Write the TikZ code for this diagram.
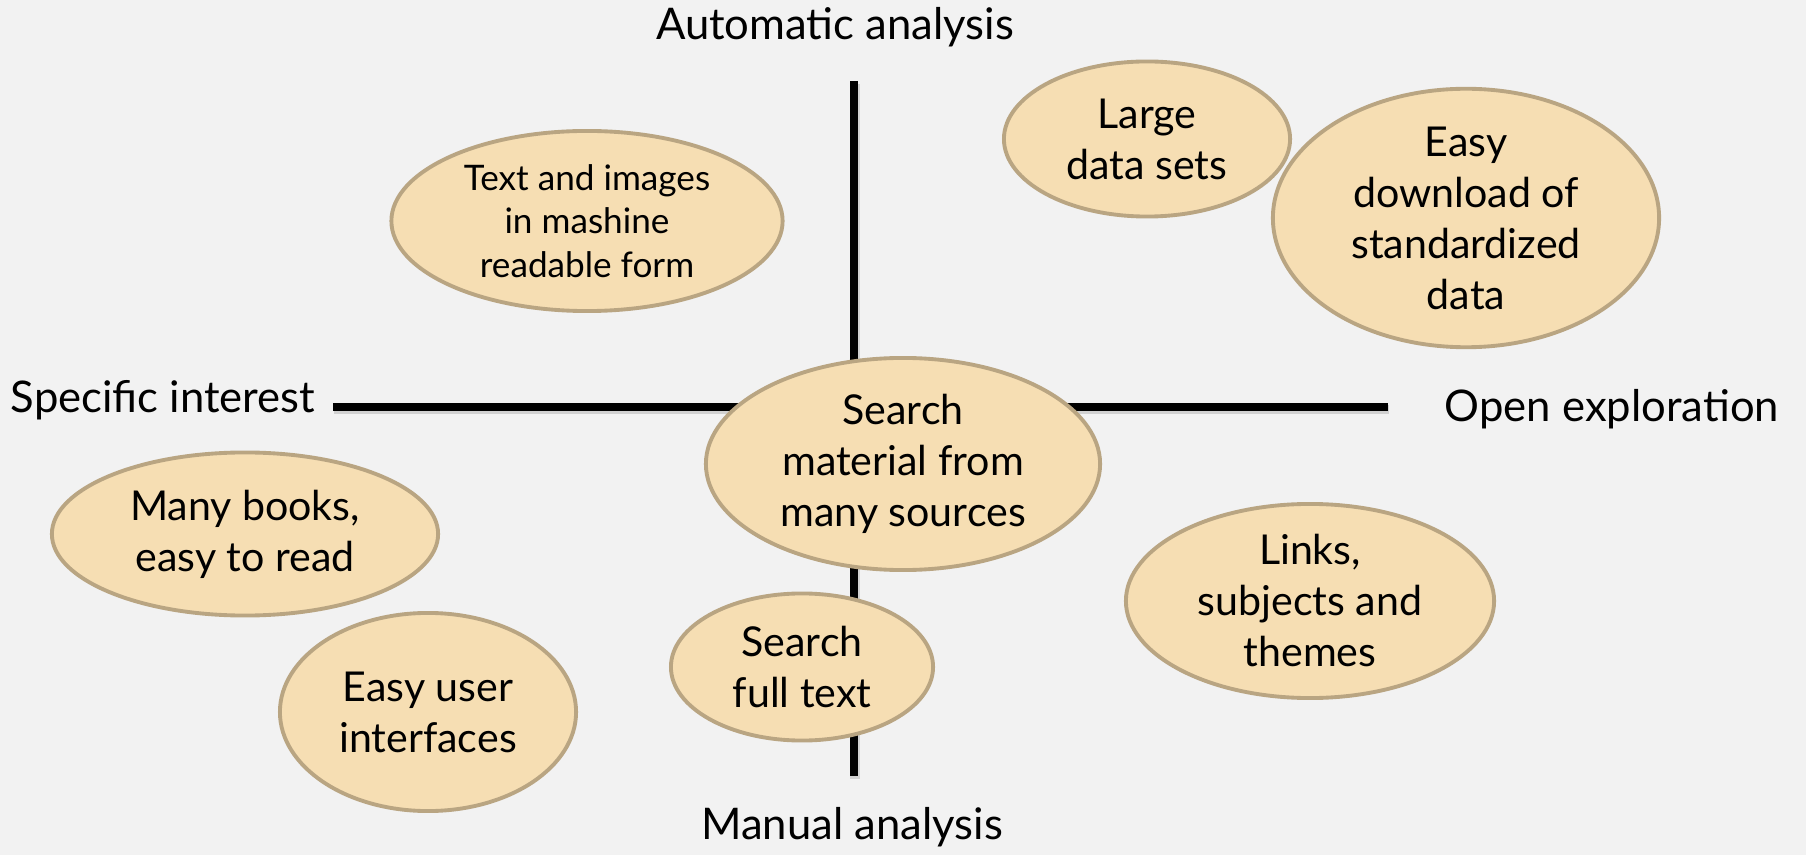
\documentclass[tikz,border=0pt]{standalone}
\usepackage{fontspec}
\setmainfont{Lato}
\usepackage{tikz}
\usetikzlibrary{shapes.geometric, positioning, backgrounds}
\definecolor{bgColor}{RGB}{242, 242, 242}
\definecolor{ideaFill}{RGB}{246, 222, 179}
\definecolor{ideaLine}{RGB}{185, 165, 130}
\definecolor{axisColor}{RGB}{0, 0, 0}
\tikzset{
    idea_node/.style={
        ellipse,
        draw=ideaLine,
        fill=ideaFill,
        line width=1.1pt,
        inner sep=0pt,
        align=center,
        font=\fontsize{11.7}{14.5}\selectfont
    },
    small_idea/.style={
        idea_node,
        font=\fontsize{10}{12.3}\selectfont
    },
    axis_line/.style={
        draw=axisColor,
        line width=2.3pt
    },
    axis_shadow/.style={
        draw=black!30,
        line width=2.6pt,
        opacity=0.5
    },
    axis_label/.style={
        font=\fontsize{12.4}{14}\selectfont,
        inner sep=0pt
    }
}

\begin{document}
\begin{tikzpicture}[x=0.01cm, y=-0.01cm]
    \fill[bgColor] (0,0) rectangle (1806,855);
    \useasboundingbox (0,0) rectangle (1806,855);

    % axes
    \coordinate (top_end) at (854,81);
    \coordinate (bottom_end) at (854,776);
    \coordinate (left_end) at (333,407);
    \coordinate (right_end) at (1388,407);
    \draw[axis_shadow, transform canvas={xshift=0.3pt, yshift=-0.8pt}] (left_end) -- (right_end);
    \draw[axis_shadow, transform canvas={xshift=0.3pt, yshift=-0.8pt}] (top_end) -- (bottom_end);
    \draw[axis_line] (left_end) -- (right_end);
    \draw[axis_line] (top_end) -- (bottom_end);

    \node[axis_label] (auto) at (835,27) {Automatic analysis};
    \node[axis_label] (manual) at (852,827) {Manual analysis};
    \node[axis_label] (specific) at (163,400) {Specific interest};
    \node[axis_label] (open) at (1612,409) {Open exploration};

    % ideas
    \node[small_idea, minimum width=3.91cm, minimum height=1.80cm] (machine) at (587,221)
        {Text and images\\in mashine\\readable form};
    \node[idea_node, minimum width=2.86cm, minimum height=1.55cm] (large) at (1147,139)
        {Large\\data sets};
    \node[idea_node, minimum width=3.86cm, minimum height=2.07cm] (download) at (1466,218)
        {Easy\\download of\\standardized\\data};
    \node[idea_node, minimum width=3.94cm, minimum height=2.12cm] (search) at (903,464)
        {Search\\material from\\many sources};
    \node[idea_node, minimum width=3.86cm, minimum height=1.63cm] (books) at (245,534)
        {Many books,\\easy to read};
    \node[idea_node, minimum width=3.68cm, minimum height=1.94cm] (links) at (1310,601)
        {Links,\\subjects and\\themes};
    \node[idea_node, minimum width=2.62cm, minimum height=1.47cm] (fulltext) at (802,667)
        {Search\\full text};
    \node[idea_node, minimum width=2.96cm, minimum height=1.98cm] (user) at (428,712)
        {Easy user\\interfaces};
\end{tikzpicture}
\end{document}
